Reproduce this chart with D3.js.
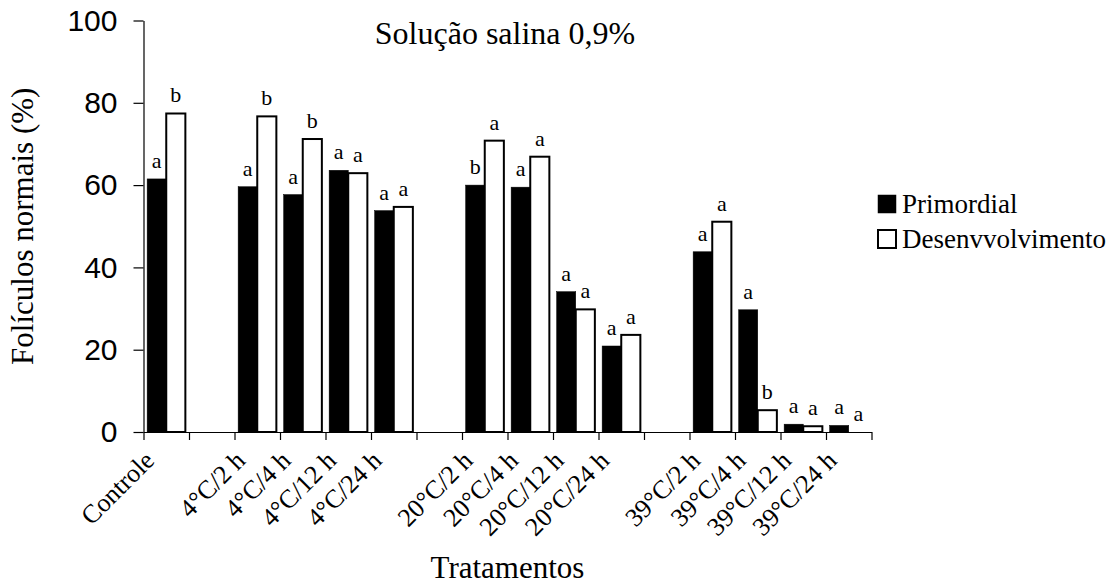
<!DOCTYPE html>
<html>
<head>
<meta charset="utf-8">
<script src="https://cdn.jsdelivr.net/npm/d3@7"></script>
<style>
  html, body { margin: 0; padding: 0; background: #fff; }
  svg { display: block; }
</style>
</head>
<body>
<svg id="chart" width="1117" height="586"></svg>
<script>
// ---- data ----
const categories = ["Controle", "", "4°C/2 h", "4°C/4 h", "4°C/12 h", "4°C/24 h", "",
  "20°C/2 h", "20°C/4 h", "20°C/12 h", "20°C/24 h", "",
  "39°C/2 h", "39°C/4 h", "39°C/12 h", "39°C/24 h"];
const seriesNames = ["Primordial", "Desenvvolvimento"];
const primordial = [61.5, null, 59.6, 57.7, 63.6, 53.8, null, 60.0, 59.5, 34.1, 20.9, null, 43.8, 29.7, 1.9, 1.6];
const desenvolvimento = [77.4, null, 76.7, 71.2, 62.9, 54.7, null, 70.8, 66.9, 29.8, 23.6, null, 51.1, 5.3, 1.4, 0];
const lettersPrimordial = ["a", null, "a", "a", "a", "a", null, "b", "a", "a", "a", null, "a", "a", "a", "a"];
const lettersDesenv = ["b", null, "b", "b", "a", "a", null, "a", "a", "a", "a", null, "a", "b", "a", "a"];
const yTicks = [0, 20, 40, 60, 80, 100];
const chartTitle = "Solução salina 0,9%";
const xTitle = "Tratamentos";
const yTitle = "Folículos normais (%)";

(function () {
// ---- layout ----
const svg = d3.select("#chart");
const pLeft = 143.5, pRight = 871.5, pTop = 20.5, pBottom = 432;
const serif = "'Liberation Serif', 'Times New Roman', serif";
const sans = "'Liberation Sans', Arial, sans-serif";

const idx = d3.range(categories.length);
const x0 = d3.scaleBand().domain(idx).range([pLeft, pRight]).padding(0);
const bw = x0.bandwidth();
const x1 = d3.scaleBand().domain(seriesNames).range([bw * 0.08, bw * 0.92]).padding(0);
const y = d3.scaleLinear().domain([0, 100]).range([pBottom, pTop]);

// y axis
const yAxis = d3.axisLeft(y).tickValues(yTicks).tickSize(10).tickPadding(16).tickSizeOuter(0);
const gy = svg.append("g").attr("transform", `translate(${pLeft},0)`).call(yAxis);
gy.selectAll("text").attr("font-family", sans).attr("font-size", 30).attr("fill", "#000");
gy.selectAll("line,path").attr("stroke", "#000").attr("stroke-width", 1.2);

// x axis (ticks at band boundaries)
const xb = d3.scaleLinear().domain([0, categories.length]).range([pLeft, pRight]);
const xAxis = d3.axisBottom(xb).tickValues(d3.range(categories.length + 1)).tickSize(8).tickSizeOuter(0).tickFormat("");
const gx = svg.append("g").attr("transform", `translate(0,${pBottom})`).call(xAxis);
gx.selectAll("line,path").attr("stroke", "#000").attr("stroke-width", 1.2);

// bars
const rows = idx.map(i => ({ i, vals: [
  { s: seriesNames[0], v: primordial[i], l: lettersPrimordial[i] },
  { s: seriesNames[1], v: desenvolvimento[i], l: lettersDesenv[i] }
]}));

const groups = svg.append("g").selectAll("g").data(rows.filter(r => r.vals[0].v !== null))
  .join("g").attr("transform", d => `translate(${x0(d.i)},0)`);

groups.selectAll("rect").data(d => d.vals.filter(v => v.v > 0)).join("rect")
  .attr("x", d => x1(d.s))
  .attr("width", x1.bandwidth())
  .attr("y", d => y(d.v))
  .attr("height", d => y(0) - y(d.v))
  .attr("fill", d => d.s === seriesNames[0] ? "#000" : "#fff")
  .attr("stroke", "#000")
  .attr("stroke-width", d => d.s === seriesNames[0] ? 0.5 : 2);

groups.selectAll("text").data(d => d.vals.filter(v => v.l)).join("text")
  .attr("x", d => x1(d.s) + x1.bandwidth() / 2)
  .attr("y", d => y(d.v) - 11)
  .attr("text-anchor", "middle")
  .attr("font-family", serif)
  .attr("font-size", 22)
  .attr("fill", "#000")
  .text(d => d.l);

// category labels
svg.append("g").selectAll("text").data(idx.filter(i => categories[i] !== "")).join("text")
  .attr("transform", i => `translate(${x0(i) + bw / 2 - 10.5},${pBottom + 30}) rotate(-45)`)
  .attr("text-anchor", "end")
  .attr("font-family", serif)
  .attr("font-size", 26)
  .attr("fill", "#000")
  .text(i => categories[i]);

// titles
svg.append("text").attr("x", 505).attr("y", 44).attr("text-anchor", "middle")
  .attr("font-family", serif).attr("font-size", 32).attr("fill", "#000").text(chartTitle);
svg.append("text").attr("x", (pLeft + pRight) / 2).attr("y", 578).attr("text-anchor", "middle")
  .attr("font-family", serif).attr("font-size", 31).attr("fill", "#000").text(xTitle);
svg.append("text").attr("transform", `translate(33,${(pTop + pBottom) / 2}) rotate(-90)`)
  .attr("text-anchor", "middle")
  .attr("font-family", serif).attr("font-size", 31).attr("fill", "#000").text(yTitle);

// legend
const lg = svg.append("g").selectAll("g").data(seriesNames).join("g")
  .attr("transform", (d, i) => `translate(878,${195 + i * 35})`);
lg.append("rect").attr("x", 0).attr("y", 0).attr("width", 18).attr("height", 18)
  .attr("fill", (d, i) => i === 0 ? "#000" : "#fff")
  .attr("stroke", "#000").attr("stroke-width", (d, i) => i === 0 ? 0.5 : 2);
lg.append("text").attr("x", 24).attr("y", 18)
  .attr("font-family", serif).attr("font-size", 27).attr("fill", "#000").text(d => d);
})();
</script>
</body>
</html>
